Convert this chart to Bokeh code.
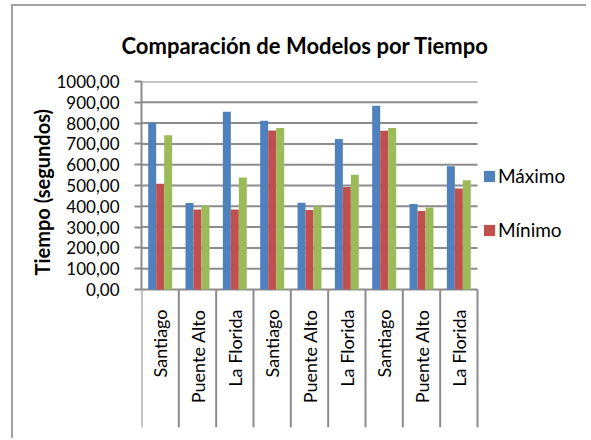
import math
from bokeh.plotting import figure
from bokeh.models import Range1d, FixedTicker, Legend, LegendItem, ColumnDataSource, Title
from bokeh.core.properties import value
from bokeh.embed import file_html
from bokeh.resources import INLINE

# ---- data ----
categorias = ["Santiago", "Puente Alto", "La Florida",
              "Santiago", "Puente Alto", "La Florida",
              "Santiago", "Puente Alto", "La Florida"]
maximo = [802, 416, 854, 811, 417, 723, 883, 411, 592]
minimo = [509, 385, 385, 765, 382, 493, 763, 377, 486]
tercero = [741, 403, 538, 776, 400, 552, 776, 394, 525]
y_ticks = [0, 100, 200, 300, 400, 500, 600, 700, 800, 900, 1000]
y_tick_labels = ["0,00", "100,00", "200,00", "300,00", "400,00", "500,00",
                 "600,00", "700,00", "800,00", "900,00", "1000,00"]
series_names = ["Máximo", "Mínimo", ""]
colors = ["#4F81BD", "#C0504D", "#9BBB59"]
title_text = "Comparación de Modelos por Tiempo"
y_label = "Tiempo (segundos)"

FONT = "Lato"
GRAY = "#8c8c8c"

n = len(categorias)
centers = [i + 0.5 for i in range(n)]
bounds = [i for i in range(n + 1)]
bw = 0.214
y_min = -663.5   # room below zero for the category label boxes
x_max = 11.839   # room right of the categories for the legend

p = figure(width=575, height=434,
           x_range=Range1d(0, x_max), y_range=Range1d(y_min, 1000),
           output_backend="svg", toolbar_location=None, x_axis_location=None,
           min_border_left=128, min_border_right=5,
           min_border_top=75, min_border_bottom=13)
p.margin = (4, 0, 0, 11)
p.styles = {"border-left": "2px solid #a0a0a0", "border-top": "2px solid #a0a0a0"}
p.outline_line_color = None
p.background_fill_color = "white"
p.border_fill_color = "white"

# gridlines
p.segment(x0=[0] * len(y_ticks), y0=y_ticks, x1=[n] * len(y_ticks), y1=y_ticks,
          line_color=GRAY, line_width=2)

renderers = []
for k, vals in enumerate([maximo, minimo, tercero]):
    src = ColumnDataSource(dict(x=[c + (k - 1) * bw for c in centers], top=vals))
    r = p.vbar(x="x", top="top", bottom=0, width=bw, source=src,
               fill_color=colors[k], line_color=None)
    renderers.append(r)

# category label boxes and labels
p.segment(x0=bounds, y0=[0] * len(bounds), x1=bounds, y1=[y_min] * len(bounds),
          line_color=GRAY, line_width=2)
p.text(x=centers, y=[0] * n, text=categorias, angle=math.pi / 2,
       text_align="right", text_baseline="middle", y_offset=20,
       text_font=value(FONT), text_font_size="18px", text_color="black")

# title
p.title.text = title_text
p.title.align = "left"
p.title.text_font = FONT
p.title.text_font_style = "bold"
p.title.text_font_size = "22px"
p.title.text_color = "black"
p.title.standoff = 46
p.title.offset = -20

# y axis
p.yaxis.ticker = FixedTicker(ticks=y_ticks, minor_ticks=[])
p.yaxis.major_label_overrides = {t: l for t, l in zip(y_ticks, y_tick_labels)}
p.yaxis.major_label_text_font = FONT
p.yaxis.major_label_text_font_size = "17px"
p.yaxis.major_label_text_color = "black"
p.yaxis.major_tick_out = 7
p.yaxis.major_tick_in = 0
p.yaxis.major_label_standoff = 15
p.yaxis.axis_line_color = GRAY
p.yaxis.axis_line_width = 2
p.yaxis.major_tick_line_color = GRAY
p.yaxis.major_tick_line_width = 2
p.yaxis.bounds = (0, 1000)

ytitle = Title(text=y_label, align="left", offset=152, standoff=0,
               text_font=FONT, text_font_style="bold", text_font_size="20px",
               text_color="black")
p.add_layout(ytitle, "left")

# grid
p.xgrid.grid_line_color = None
p.ygrid.grid_line_color = None

legend = Legend(items=[LegendItem(label=series_names[0], renderers=[renderers[0]]),
                       LegendItem(label=series_names[1], renderers=[renderers[1]])],
                location=(341, 186), border_line_color=None, background_fill_alpha=0,
                padding=0, margin=0, spacing=31, glyph_width=14, glyph_height=14,
                label_text_font=FONT, label_text_font_size="19px",
                label_text_color="black",
                label_standoff=2, label_height=20)
p.add_layout(legend, "center")

open("out.html", "w").write(file_html(p, INLINE))
